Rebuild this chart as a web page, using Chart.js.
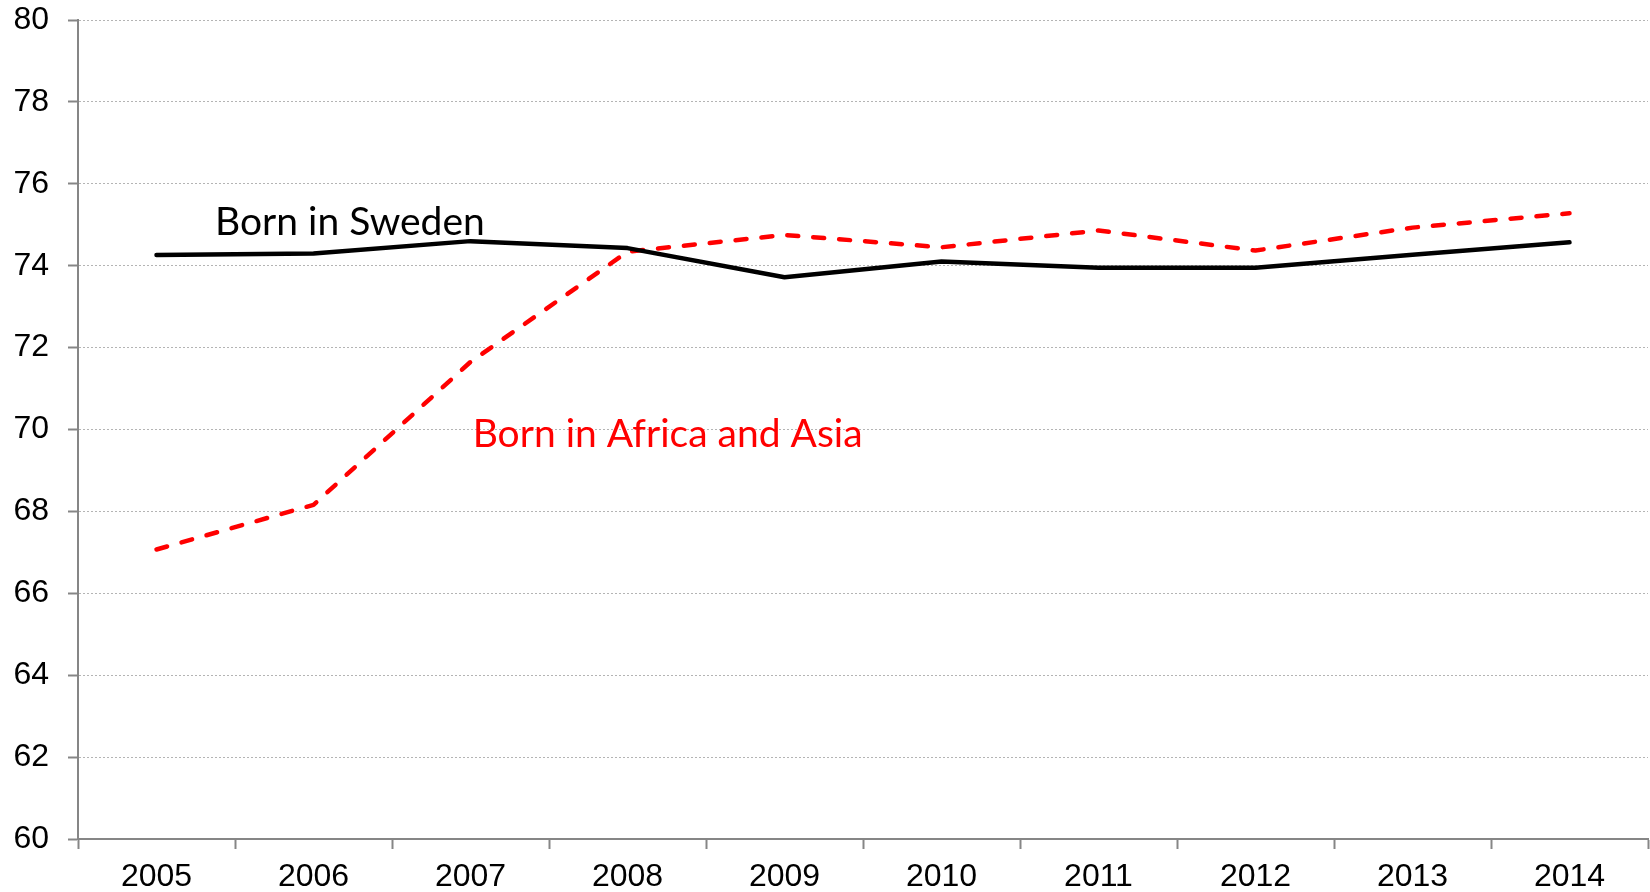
<!DOCTYPE html>
<html>
<head>
<meta charset="utf-8">
<title>Born in Sweden vs Born in Africa and Asia</title>
<script src="https://cdn.jsdelivr.net/npm/chart.js@4.4.1/dist/chart.umd.min.js"></script>
<style>
    html, body { margin: 0; padding: 0; background: #ffffff; }
    #wrap { width: 1650px; height: 892px; position: relative; }
</style>
</head>
<body>
<div id="wrap"><canvas id="myChart"></canvas></div>
<script>
// =====================
// Data
// =====================
const years = ['2005', '2006', '2007', '2008', '2009', '2010', '2011', '2012', '2013', '2014'];
const bornSweden = [74.26, 74.30, 74.60, 74.43, 73.72, 74.10, 73.95, 73.95, 74.27, 74.57];
const bornAfricaAsia = [67.07, 68.16, 71.65, 74.34, 74.75, 74.45, 74.86, 74.37, 74.93, 75.28];
const yMin = 60;
const yMax = 80;
const yStep = 2;

// =====================
// Inline labels next to the lines
// =====================
const lineLabels = {
    id: 'lineLabels',
    afterDatasetsDraw(chart, args, opts) {
        const ctx = chart.ctx;
        const x = chart.scales.x;
        const y = chart.scales.y;
        ctx.save();
        ctx.font = opts.font;
        ctx.textAlign = 'left';
        ctx.textBaseline = 'alphabetic';
        opts.items.forEach(item => {
            ctx.fillStyle = item.color;
            ctx.fillText(item.text, x.getPixelForValue(item.at[0]), y.getPixelForValue(item.at[1]));
        });
        ctx.restore();
    }
};

const tickFont = { family: '"Liberation Sans", Arial, sans-serif', size: 32, lineHeight: 1.2 };
const axisGray = '#868686';

const ctx = document.getElementById('myChart').getContext('2d');
const chart = new Chart(ctx, {
    type: 'line',
    data: {
        labels: years,
        datasets: [
            {
                label: 'Born in Sweden',
                data: bornSweden,
                borderColor: '#000000',
                borderWidth: 4.5,
                borderJoinStyle: 'round',
                borderCapStyle: 'round',
                pointRadius: 0,
                tension: 0,
                fill: false
            },
            {
                label: 'Born in Africa and Asia',
                data: bornAfricaAsia,
                borderColor: '#ff0000',
                borderWidth: 4.5,
                borderDash: [11, 15],
                borderJoinStyle: 'round',
                borderCapStyle: 'round',
                pointRadius: 0,
                tension: 0,
                fill: false
            }
        ]
    },
    options: {
        responsive: true,
        maintainAspectRatio: false,
        animation: false,
        layout: { padding: { top: 20, right: 2, left: 0, bottom: 0 } },
        plugins: {
            legend: { display: false },
            tooltip: { enabled: false },
            lineLabels: {
                font: '39px Lato, "Open Sans", sans-serif',
                items: [
                    { text: 'Born in Sweden', color: '#000000', at: [0.373, 74.75] },
                    { text: 'Born in Africa and Asia', color: '#ff0000', at: [2.014, 69.58] }
                ]
            }
        },
        scales: {
            x: {
                offset: true,
                grid: {
                    offset: true,
                    drawOnChartArea: false,
                    drawTicks: true,
                    tickLength: 10,
                    tickColor: axisGray,
                    tickWidth: 2
                },
                border: { display: true, color: axisGray, width: 2 },
                ticks: { color: '#000000', font: tickFont, padding: 9, maxRotation: 0, autoSkip: false },
                afterFit(scale) { scale.height = 53; }
            },
            y: {
                min: yMin,
                max: yMax,
                grid: {
                    color: '#b4b4b4',
                    lineWidth: 1,
                    drawTicks: true,
                    tickLength: 10,
                    tickColor: axisGray,
                    tickWidth: 2
                },
                border: { display: true, color: axisGray, width: 2, dash: [2, 2] },
                ticks: { stepSize: yStep, color: '#000000', font: tickFont, padding: 19 },
                afterFit(scale) {
                    scale.width = 78;
                    scale.paddingTop = 0;
                    scale.paddingBottom = 0;
                }
            }
        }
    },
    plugins: [lineLabels]
});
</script>
</body>
</html>
